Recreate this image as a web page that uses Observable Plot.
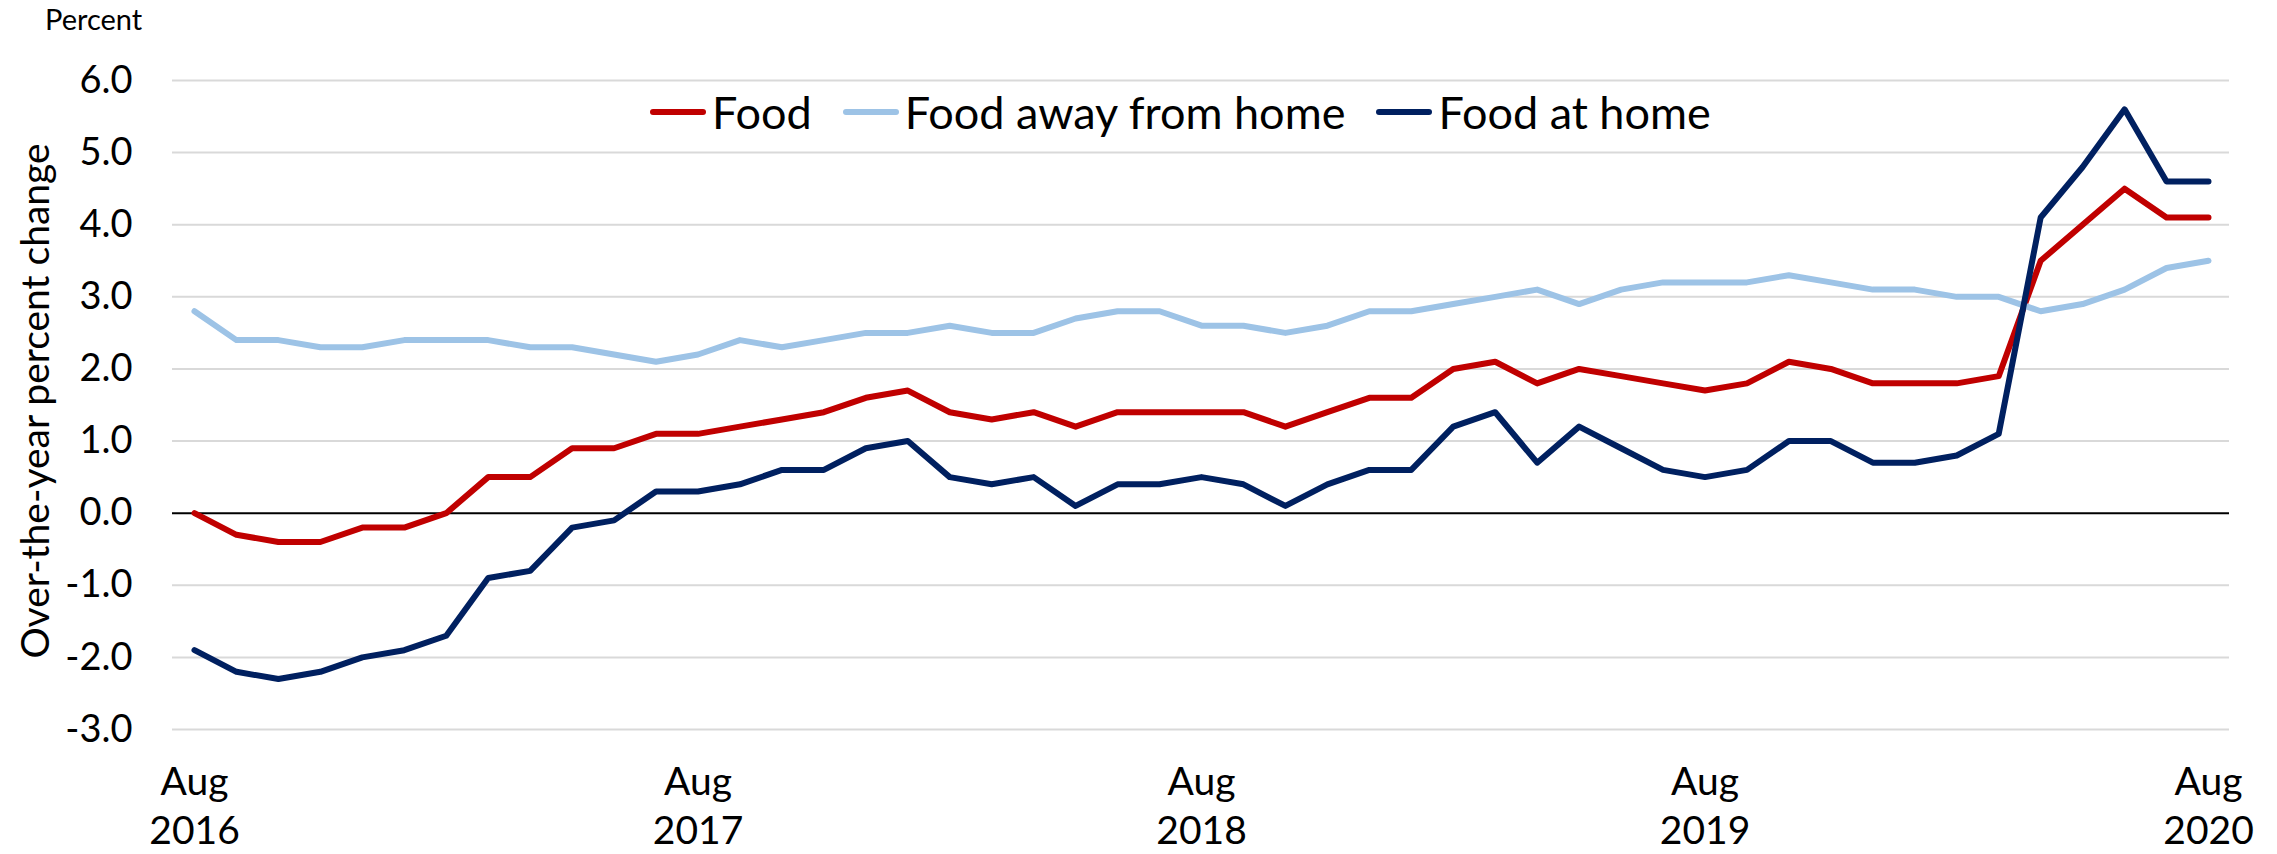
<!DOCTYPE html>
<html>
<head>
<meta charset="utf-8">
<script src="https://cdn.jsdelivr.net/npm/d3@7"></script>
<script src="https://cdn.jsdelivr.net/npm/@observablehq/plot@0.6"></script>
<style>
  html, body { margin: 0; padding: 0; background: #fff; }
  #wrap { position: relative; width: 2277px; height: 854px; font-family: Lato, "Open Sans", sans-serif; color: #000; }
  #unit { position: absolute; left: 45px; top: 1px; font-size: 29px; }
  #legend { position: absolute; left: 650px; top: 83px; display: flex; align-items: center; font-size: 45px; line-height: 58px; }
  #legend .item { display: flex; align-items: center; margin-right: 31px; }
  #legend .sw { width: 56px; height: 6px; border-radius: 3px; margin-right: 6px; }
</style>
</head>
<body>
<div id="wrap">
  <div id="chart"></div>
  <div id="unit">Percent</div>
  <div id="legend"></div>
</div>
<script>
// Months Aug 2016 .. Aug 2020 (49 monthly points, index 0..48)
const monthIndex = d3.range(49);
const xTickIdx = [0, 12, 24, 36, 48];
const xTickLabels = ["Aug\n2016", "Aug\n2017", "Aug\n2018", "Aug\n2019", "Aug\n2020"];
const yTicks = [-3, -2, -1, 0, 1, 2, 3, 4, 5, 6];

const seriesNames = ["Food", "Food away from home", "Food at home"];
const seriesColors = ["#C00000", "#9DC3E6", "#002060"];

const food = [0.0, -0.3, -0.4, -0.4, -0.2, -0.2, 0.0, 0.5, 0.5, 0.9, 0.9, 1.1, 1.1,
  1.2, 1.3, 1.4, 1.6, 1.7, 1.4, 1.3, 1.4, 1.2, 1.4, 1.4, 1.4,
  1.4, 1.2, 1.4, 1.6, 1.6, 2.0, 2.1, 1.8, 2.0, 1.9, 1.8, 1.7,
  1.8, 2.1, 2.0, 1.8, 1.8, 1.8, 1.9, 3.5, 4.0, 4.5, 4.1, 4.1];
const foodAway = [2.8, 2.4, 2.4, 2.3, 2.3, 2.4, 2.4, 2.4, 2.3, 2.3, 2.2, 2.1, 2.2,
  2.4, 2.3, 2.4, 2.5, 2.5, 2.6, 2.5, 2.5, 2.7, 2.8, 2.8, 2.6,
  2.6, 2.5, 2.6, 2.8, 2.8, 2.9, 3.0, 3.1, 2.9, 3.1, 3.2, 3.2,
  3.2, 3.3, 3.2, 3.1, 3.1, 3.0, 3.0, 2.8, 2.9, 3.1, 3.4, 3.5];
const foodHome = [-1.9, -2.2, -2.3, -2.2, -2.0, -1.9, -1.7, -0.9, -0.8, -0.2, -0.1, 0.3, 0.3,
  0.4, 0.6, 0.6, 0.9, 1.0, 0.5, 0.4, 0.5, 0.1, 0.4, 0.4, 0.5,
  0.4, 0.1, 0.4, 0.6, 0.6, 1.2, 1.4, 0.7, 1.2, 0.9, 0.6, 0.5,
  0.6, 1.0, 1.0, 0.7, 0.7, 0.8, 1.1, 4.1, 4.8, 5.6, 4.6, 4.6];

const seriesValues = [food, foodAway, foodHome];
const data = seriesNames.flatMap((name, s) =>
  monthIndex.map(i => ({series: name, i, v: seriesValues[s][i]})));

const chart = Plot.plot({
  width: 2277,
  height: 854,
  marginLeft: 172,
  marginRight: 48,
  marginTop: 80,
  marginBottom: 125,
  style: {fontFamily: "Lato, 'Open Sans', sans-serif", color: "#000", background: "#fff"},
  x: {domain: [0, 48], range: [194, 2208]},
  y: {domain: [-3, 6]},
  color: {domain: seriesNames, range: seriesColors},
  marks: [
    Plot.ruleY(yTicks.filter(d => d !== 0), {stroke: "#D9D9D9", strokeWidth: 2}),
    Plot.ruleY([0], {stroke: "#000", strokeWidth: 2}),
    Plot.line(data, {x: "i", y: "v", z: "series", stroke: "series", strokeWidth: 6,
      strokeLinejoin: "round", strokeLinecap: "round"}),
    Plot.axisY(yTicks, {tickSize: 0, tickPadding: 40, fontSize: 38, tickFormat: d => d.toFixed(1), label: null}),
    Plot.axisX(xTickIdx, {tickSize: 0, tickPadding: 31, fontSize: 39, lineHeight: 1.25,
      tickFormat: (d) => xTickLabels[xTickIdx.indexOf(d)], label: null}),
    Plot.text(["Over-the-year percent change"], {frameAnchor: "left", textAnchor: "middle", lineAnchor: "middle",
      rotate: -90, dx: -136, dy: -4, fontSize: 39})
  ]
});
document.getElementById("chart").appendChild(chart);

const legend = document.getElementById("legend");
seriesNames.forEach((name, s) => {
  const item = document.createElement("div");
  item.className = "item";
  const sw = document.createElement("div");
  sw.className = "sw";
  sw.style.background = seriesColors[s];
  const label = document.createElement("span");
  label.textContent = name;
  item.appendChild(sw);
  item.appendChild(label);
  legend.appendChild(item);
});
</script>
</body>
</html>
